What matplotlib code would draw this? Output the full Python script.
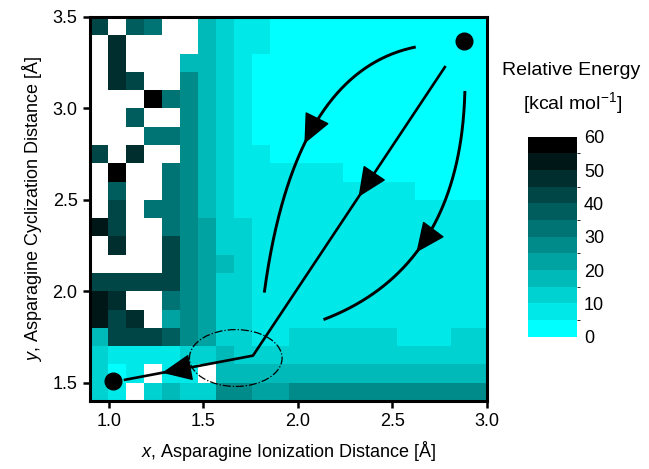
import numpy as np
import matplotlib
matplotlib.use("Agg")
import matplotlib.pyplot as plt
from matplotlib.colors import ListedColormap, BoundaryNorm
from matplotlib.patches import Ellipse

plt.rcParams['font.family'] = ['Liberation Sans', 'DejaVu Sans']
plt.rcParams['mathtext.fontset'] = 'custom'
plt.rcParams['mathtext.rm'] = 'Liberation Sans'
plt.rcParams['mathtext.it'] = 'Liberation Sans:italic'

N = np.nan
# Relative energy (kcal/mol) on grid; rows from top (y=3.45) to bottom (y=1.45), 22 columns in x
energy = [
    [42, N, 37, 32, N, N, 17, 12, 7, 7] + [2]*12,
    [N, 47, N, N, N, N, 17, 12, 7, 7] + [2]*12,
    [N, 47, N, N, N, 17, 17, 12, 7, 2] + [2]*12,
    [N, 47, 42, N, N, 27, 17, 12, 7, 2] + [2]*12,
    [N, N, N, 57, 32, 27, 17, 12, 7, 2] + [2]*12,
    [N, N, 37, N, N, 27, 17, 12, 7, 2] + [2]*12,
    [N, N, N, 32, 32, 27, 17, 12, 7, 2] + [2]*12,
    [42, N, 47, N, N, 27, 17, 12, 7, 7] + [2]*12,
    [N, 57, N, N, 32, 27, 17, 12, 7, 7] + [7]*4 + [2]*8,
    [N, 37, N, N, 32, 27, 17, 12, 7, 7] + [7]*8 + [2]*4,
    [N, 42, N, 32, 32, 27, 17, 12, 7, 7] + [7]*12,
    [52, 42, N, N, 32, 27, 22, 12, 12, 7] + [7]*12,
    [N, 47, N, N, 42, 27, 22, 12, 12, 7] + [7]*12,
    [N, N, N, N, 42, 27, 22, 17, 12, 7] + [7]*12,
    [42, 42, 42, 42, 42, 27, 22, 12, 12, 7] + [7]*12,
    [52, 47, N, N, 32, 27, 22, 12, 12, 7] + [7]*12,
    [52, 42, 47, N, 22, 27, 22, 12, 12, 7] + [7]*12,
    [17, 42, 42, 42, 37, 27, 22, 12, 12, 7, 7] + [12]*6 + [7]*3 + [12]*2,
    [12, 7, 7, 7, 7, 12, 12, 17, 12, 12] + [12]*12,
    [12, 2, 7, N, 7, 7, N, 17, 17, 17] + [17]*12,
    [12, 7, N, 12, 17, 12, 12, 27, 27, 22, 22] + [27]*11,
]
x_range = (0.9, 3.0)
y_range = (1.4, 3.5)
levels = [0, 5, 10, 15, 20, 25, 30, 35, 40, 45, 50, 55, 60]
cbar_ticks = [0, 10, 20, 30, 40, 50, 60]
x_ticks = [1.0, 1.5, 2.0, 2.5, 3.0]
y_ticks = [1.5, 2.0, 2.5, 3.0, 3.5]

# pathway annotations (data coordinates)
start_pt = (2.88, 3.368)
end_pt = (1.02, 1.512)
straight_path_x = [2.777, 1.762, 1.085]
straight_path_y = [3.226, 1.648, 1.516]
left_curve = [(2.623, 3.336), (1.979, 3.202), (1.822, 1.993)]
right_curve = [(2.883, 3.095), (2.860, 2.130), (2.135, 1.845)]
left_tip = (2.022, 2.815)
right_tip = (2.632, 2.211)
ellipse_c = (1.671, 1.635)
ellipse_wh = (0.49, 0.311)

Z = np.array(energy, dtype=float)
nrow, ncol = Z.shape
xe = np.linspace(x_range[0], x_range[1], ncol + 1)
ye = np.linspace(y_range[1], y_range[0], nrow + 1)

nlev = len(levels) - 1
cols = [(0, 1 - k / (nlev - 1), 1 - k / (nlev - 1)) for k in range(nlev)]
cmap = ListedColormap(cols)
cmap.set_bad('white')
norm = BoundaryNorm(levels, cmap.N)

fig = plt.figure(figsize=(6.49, 4.69), dpi=100)
ax = fig.add_axes([0.1387, 0.145, 0.6117, 0.8188])
mesh = ax.pcolormesh(xe, ye, np.ma.masked_invalid(Z), cmap=cmap, norm=norm)
ax.set_xlim(*x_range)
ax.set_ylim(*y_range)
ax.set_xticks(x_ticks)
ax.set_yticks(y_ticks)
ax.set_xticklabels([f"{v:.1f}" for v in x_ticks])
ax.set_yticklabels([f"{v:.1f}" for v in y_ticks])
for s in ax.spines.values():
    s.set_linewidth(2.2)
ax.tick_params(direction='out', length=5, width=1.8, labelsize=13, pad=4)
ax.set_xlabel(r'$\mathit{x}$, Asparagine Ionization Distance [Å]', fontsize=13, labelpad=6)
ax.set_ylabel(r'$\mathit{y}$, Asparagine Cyclization Distance [Å]', fontsize=13, labelpad=6)

lw = 2.1
def bez(P, t):
    P = np.array(P)
    t = np.asarray(t)[:, None]
    return (1 - t) ** 2 * P[0] + 2 * (1 - t) * t * P[1] + t ** 2 * P[2]

tt = np.linspace(0, 1, 200)
head = dict(arrowstyle='-|>,head_length=0.8,head_width=0.36', mutation_scale=24,
            color='black', lw=1, shrinkA=0, shrinkB=0)
for P, tip in [(left_curve, left_tip), (right_curve, right_tip)]:
    pts = bez(P, tt)
    ax.plot(pts[:, 0], pts[:, 1], color='black', lw=lw, solid_capstyle='butt')
    i = np.argmin(np.hypot(pts[:, 0] - tip[0], pts[:, 1] - tip[1]))
    ax.annotate('', xy=pts[i], xytext=pts[max(i - 4, 0)], arrowprops=head)

ax.plot(straight_path_x, straight_path_y, color='black', lw=lw - 0.2)
for (x0, y0, x1, y1, f) in [(straight_path_x[0], straight_path_y[0], straight_path_x[1], straight_path_y[1], 0.45),
                            (straight_path_x[1], straight_path_y[1], straight_path_x[2], straight_path_y[2], 0.71)]:
    tipx = x0 + f * (x1 - x0); tipy = y0 + f * (y1 - y0)
    bx = x0 + (f - 0.03) * (x1 - x0); by = y0 + (f - 0.03) * (y1 - y0)
    ax.annotate('', xy=(tipx, tipy), xytext=(bx, by), arrowprops=head)

ax.add_patch(Ellipse(ellipse_c, ellipse_wh[0], ellipse_wh[1], fill=False,
                     ec='black', lw=0.9, ls='-.'))
ax.plot([start_pt[0], end_pt[0]], [start_pt[1], end_pt[1]], 'o', ms=12,
        color='black', ls='none')

cax = fig.add_axes([0.8136, 0.282, 0.0755, 0.4264])
cb = fig.colorbar(mesh, cax=cax, ticks=cbar_ticks)
cb.outline.set_visible(False)
cax.tick_params(length=0, labelsize=13, pad=5)
fig.text(0.88, 0.85, 'Relative Energy', ha='center', va='center', fontsize=14)
fig.text(0.882, 0.78, r'[kcal mol$^{\mathregular{-1}}$]', ha='center', va='center', fontsize=14)

fig.savefig('out.png', dpi=100)
